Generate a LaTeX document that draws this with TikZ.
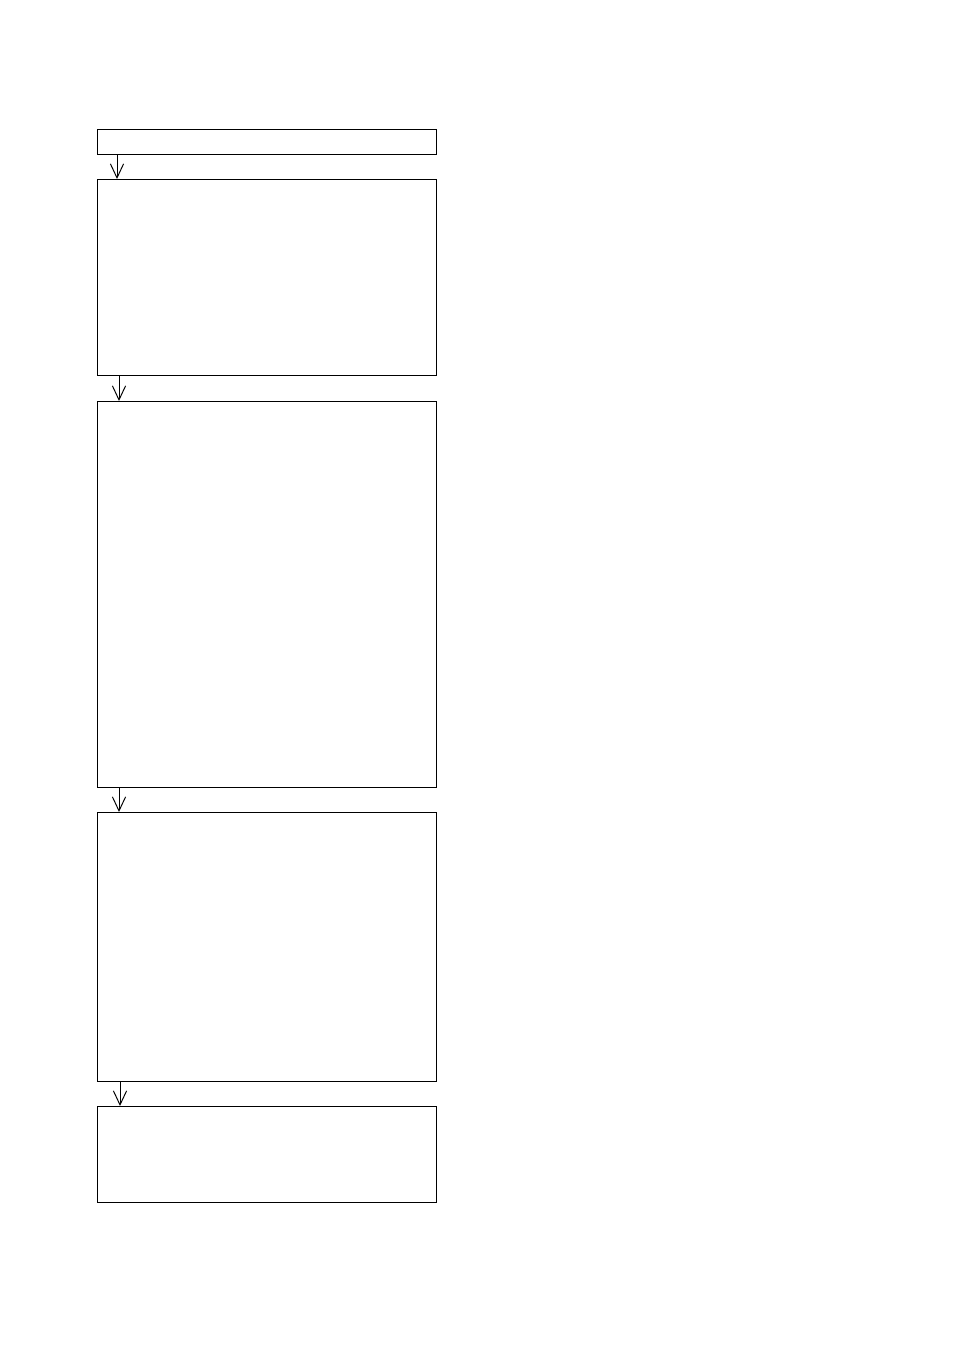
\documentclass[tikz,border=0pt]{standalone}
\usepackage{tikz}
\usetikzlibrary{positioning,arrows.meta}

\begin{document}
\begin{tikzpicture}[
  box/.style={draw, line width=0.7pt, minimum width=8.475cm, inner sep=0pt, outer sep=0pt},
  flow/.style={line width=0.7pt, -{Straight Barb[length=0.35cm,width=0.33cm,line width=0.7pt]}}
]

% page frame
\useasboundingbox (0,0) rectangle (23.85,-33.775);

% ===================== BOXES =====================
\node[box, minimum height=0.625cm] (b1) at (6.6625,-3.5375) {};
\node[box, minimum height=4.9cm,   below=0.625cm of b1] (b2) {};
\node[box, minimum height=9.65cm,  below=0.65cm of b2]  (b3) {};
\node[box, minimum height=6.725cm, below=0.625cm of b3] (b4) {};
\node[box, minimum height=2.4cm,   below=0.625cm of b4] (b5) {};

% ===================== ARROWS =====================
\draw[flow] ([xshift=0.5cm]b1.south west)   -- ([xshift=0.5cm]b2.north west);
\draw[flow] ([xshift=0.55cm]b2.south west)  -- ([xshift=0.55cm]b3.north west);
\draw[flow] ([xshift=0.55cm]b3.south west)  -- ([xshift=0.55cm]b4.north west);
\draw[flow] ([xshift=0.575cm]b4.south west) -- ([xshift=0.575cm]b5.north west);

\end{tikzpicture}
\end{document}
